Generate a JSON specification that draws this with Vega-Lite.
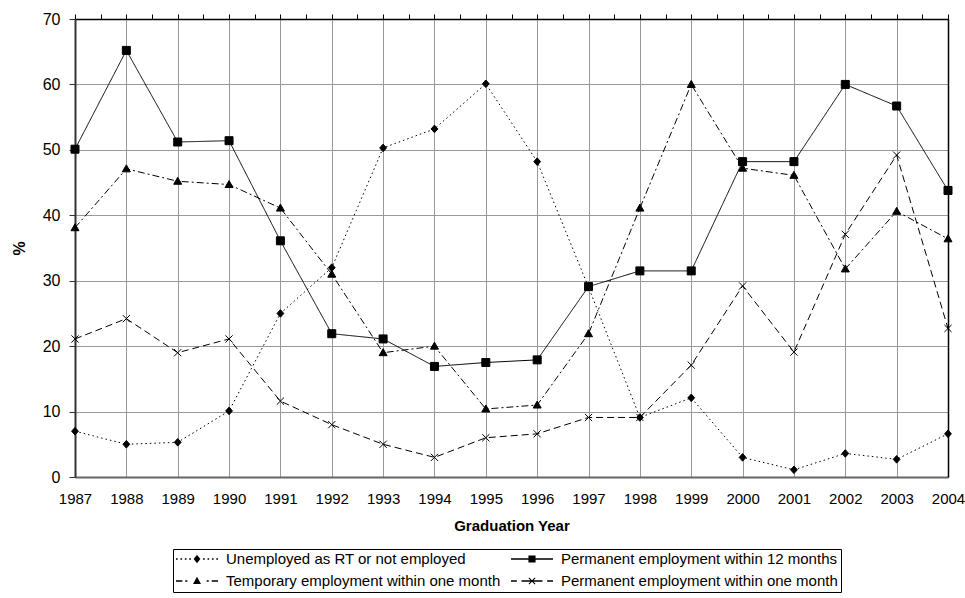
{
  "$schema": "https://vega.github.io/schema/vega-lite/v6.json",
  "width": 873,
  "height": 458,
  "autosize": "none",
  "padding": {"left": 75, "top": 19, "right": 17, "bottom": 121},
  "background": "white",
  "config": {"font": "Liberation Sans", "view": {"stroke": null}},
  "data": {
    "values": [
      {"year": 1987, "series": "Unemployed as RT or not employed", "pct": 7.0},
      {"year": 1988, "series": "Unemployed as RT or not employed", "pct": 5.0},
      {"year": 1989, "series": "Unemployed as RT or not employed", "pct": 5.3},
      {"year": 1990, "series": "Unemployed as RT or not employed", "pct": 10.1},
      {"year": 1991, "series": "Unemployed as RT or not employed", "pct": 25.0},
      {"year": 1992, "series": "Unemployed as RT or not employed", "pct": 32.0},
      {"year": 1993, "series": "Unemployed as RT or not employed", "pct": 50.3},
      {"year": 1994, "series": "Unemployed as RT or not employed", "pct": 53.2},
      {"year": 1995, "series": "Unemployed as RT or not employed", "pct": 60.1},
      {"year": 1996, "series": "Unemployed as RT or not employed", "pct": 48.2},
      {"year": 1997, "series": "Unemployed as RT or not employed", "pct": 29.0},
      {"year": 1998, "series": "Unemployed as RT or not employed", "pct": 9.1},
      {"year": 1999, "series": "Unemployed as RT or not employed", "pct": 12.1},
      {"year": 2000, "series": "Unemployed as RT or not employed", "pct": 3.0},
      {"year": 2001, "series": "Unemployed as RT or not employed", "pct": 1.1},
      {"year": 2002, "series": "Unemployed as RT or not employed", "pct": 3.6},
      {"year": 2003, "series": "Unemployed as RT or not employed", "pct": 2.7},
      {"year": 2004, "series": "Unemployed as RT or not employed", "pct": 6.6},
      {"year": 1987, "series": "Permanent employment within 12 months", "pct": 50.1},
      {"year": 1988, "series": "Permanent employment within 12 months", "pct": 65.2},
      {"year": 1989, "series": "Permanent employment within 12 months", "pct": 51.2},
      {"year": 1990, "series": "Permanent employment within 12 months", "pct": 51.4},
      {"year": 1991, "series": "Permanent employment within 12 months", "pct": 36.1},
      {"year": 1992, "series": "Permanent employment within 12 months", "pct": 21.9},
      {"year": 1993, "series": "Permanent employment within 12 months", "pct": 21.1},
      {"year": 1994, "series": "Permanent employment within 12 months", "pct": 16.9},
      {"year": 1995, "series": "Permanent employment within 12 months", "pct": 17.5},
      {"year": 1996, "series": "Permanent employment within 12 months", "pct": 17.9},
      {"year": 1997, "series": "Permanent employment within 12 months", "pct": 29.1},
      {"year": 1998, "series": "Permanent employment within 12 months", "pct": 31.5},
      {"year": 1999, "series": "Permanent employment within 12 months", "pct": 31.5},
      {"year": 2000, "series": "Permanent employment within 12 months", "pct": 48.2},
      {"year": 2001, "series": "Permanent employment within 12 months", "pct": 48.2},
      {"year": 2002, "series": "Permanent employment within 12 months", "pct": 60.0},
      {"year": 2003, "series": "Permanent employment within 12 months", "pct": 56.7},
      {"year": 2004, "series": "Permanent employment within 12 months", "pct": 43.8},
      {"year": 1987, "series": "Temporary employment within one month", "pct": 38.1},
      {"year": 1988, "series": "Temporary employment within one month", "pct": 47.1},
      {"year": 1989, "series": "Temporary employment within one month", "pct": 45.2},
      {"year": 1990, "series": "Temporary employment within one month", "pct": 44.7},
      {"year": 1991, "series": "Temporary employment within one month", "pct": 41.1},
      {"year": 1992, "series": "Temporary employment within one month", "pct": 31.0},
      {"year": 1993, "series": "Temporary employment within one month", "pct": 19.0},
      {"year": 1994, "series": "Temporary employment within one month", "pct": 20.0},
      {"year": 1995, "series": "Temporary employment within one month", "pct": 10.4},
      {"year": 1996, "series": "Temporary employment within one month", "pct": 11.0},
      {"year": 1997, "series": "Temporary employment within one month", "pct": 21.9},
      {"year": 1998, "series": "Temporary employment within one month", "pct": 41.1},
      {"year": 1999, "series": "Temporary employment within one month", "pct": 60.0},
      {"year": 2000, "series": "Temporary employment within one month", "pct": 47.2},
      {"year": 2001, "series": "Temporary employment within one month", "pct": 46.1},
      {"year": 2002, "series": "Temporary employment within one month", "pct": 31.8},
      {"year": 2003, "series": "Temporary employment within one month", "pct": 40.6},
      {"year": 2004, "series": "Temporary employment within one month", "pct": 36.4},
      {"year": 1987, "series": "Permanent employment within one month", "pct": 21.1},
      {"year": 1988, "series": "Permanent employment within one month", "pct": 24.2},
      {"year": 1989, "series": "Permanent employment within one month", "pct": 19.0},
      {"year": 1990, "series": "Permanent employment within one month", "pct": 21.1},
      {"year": 1991, "series": "Permanent employment within one month", "pct": 11.6},
      {"year": 1992, "series": "Permanent employment within one month", "pct": 8.0},
      {"year": 1993, "series": "Permanent employment within one month", "pct": 5.0},
      {"year": 1994, "series": "Permanent employment within one month", "pct": 3.0},
      {"year": 1995, "series": "Permanent employment within one month", "pct": 6.0},
      {"year": 1996, "series": "Permanent employment within one month", "pct": 6.6},
      {"year": 1997, "series": "Permanent employment within one month", "pct": 9.1},
      {"year": 1998, "series": "Permanent employment within one month", "pct": 9.1},
      {"year": 1999, "series": "Permanent employment within one month", "pct": 17.1},
      {"year": 2000, "series": "Permanent employment within one month", "pct": 29.2},
      {"year": 2001, "series": "Permanent employment within one month", "pct": 19.1},
      {"year": 2002, "series": "Permanent employment within one month", "pct": 37.1},
      {"year": 2003, "series": "Permanent employment within one month", "pct": 49.2},
      {"year": 2004, "series": "Permanent employment within one month", "pct": 22.7}
    ]
  },
  "layer": [
    {
      "mark": {"type": "line", "color": "black", "strokeWidth": 1},
      "encoding": {
        "x": {
          "field": "year", "type": "quantitative",
          "scale": {"domain": [1987, 2004], "nice": false, "zero": false},
          "axis": {
            "orient": "bottom",
            "values": [1987, 1988, 1989, 1990, 1991, 1992, 1993, 1994, 1995, 1996, 1997, 1998, 1999, 2000, 2001, 2002, 2003, 2004],
            "format": "d", "labelFontSize": 15, "labelColor": "black", "labelPadding": 14,
            "labelFlush": false, "labelOverlap": false,
            "ticks": false, "domainColor": "#666", "domainWidth": 2,
            "grid": true, "gridColor": "#999", "gridWidth": 1,
            "title": "Graduation Year", "titleFontSize": 15, "titleFontWeight": "bold", "titleColor": "black", "titlePadding": 12
          }
        },
        "y": {
          "field": "pct", "type": "quantitative",
          "scale": {"domain": [0, 70], "nice": false},
          "axis": {
            "orient": "left",
            "values": [0, 10, 20, 30, 40, 50, 60, 70],
            "labelFontSize": 16, "labelColor": "black", "labelPadding": 9,
            "tickSize": 6, "tickColor": "#333", "domainColor": "#333", "domainWidth": 2,
            "grid": true, "gridColor": "#999", "gridWidth": 1,
            "title": "%", "titleFontSize": 16, "titleFontWeight": "bold", "titleColor": "black", "titlePadding": 15
          }
        },
        "strokeDash": {
          "field": "series", "type": "nominal",
          "scale": {
            "domain": ["Unemployed as RT or not employed", "Permanent employment within 12 months", "Temporary employment within one month", "Permanent employment within one month"],
            "range": [[1.5, 3], [1, 0], [7, 3, 2, 3], [7, 4]]
          },
          "legend": null
        }
      }
    },
    {
      "mark": {"type": "point", "filled": true, "fill": "black", "stroke": "black", "strokeWidth": 1, "size": 64, "opacity": 1},
      "encoding": {
        "x": {"field": "year", "type": "quantitative", "axis": null},
        "y": {"field": "pct", "type": "quantitative", "axis": null},
        "shape": {
          "field": "series", "type": "nominal",
          "scale": {
            "domain": ["Unemployed as RT or not employed", "Permanent employment within 12 months", "Temporary employment within one month", "Permanent employment within one month"],
            "range": ["M0,-0.95L0.85,0L0,0.95L-0.85,0Z", "M-1,-1H1V1H-1Z", "M0,-1L1,0.75L-1,0.75Z", "M-0.9,-0.9L0.9,0.9M-0.9,0.9L0.9,-0.9"]
          },
          "legend": null
        }
      }
    },
    {
      "mark": {"type": "point", "filled": true, "color": "black", "opacity": 0, "size": 1764},
      "encoding": {
        "x": {
          "field": "year", "type": "quantitative",
          "axis": {
            "orient": "top",
            "values": [1987, 1987.5, 1988, 1988.5, 1989, 1989.5, 1990, 1990.5, 1991, 1991.5, 1992, 1992.5, 1993, 1993.5, 1994, 1994.5, 1995, 1995.5, 1996, 1996.5, 1997, 1997.5, 1998, 1998.5, 1999, 1999.5, 2000, 2000.5, 2001, 2001.5, 2002, 2002.5, 2003, 2003.5, 2004],
            "labels": false, "ticks": true, "tickSize": 5, "tickColor": "black",
            "domainColor": "black", "domainWidth": 1.5, "grid": false, "title": null
          }
        },
        "y": {
          "field": "pct", "type": "quantitative",
          "axis": {"orient": "right", "labels": false, "ticks": false, "domainColor": "black", "domainWidth": 1.5, "grid": false, "title": null}
        },
        "shape": {
          "field": "series", "type": "nominal",
          "scale": {
            "domain": ["Unemployed as RT or not employed", "Temporary employment within one month", "Permanent employment within 12 months", "Permanent employment within one month"],
            "range": [
              "M-1,-0.03h0.08v0.06h-0.08ZM-0.79,-0.03h0.08v0.06h-0.08ZM-0.58,-0.03h0.08v0.06h-0.08ZM-0.37,-0.03h0.08v0.06h-0.08ZM0.29,-0.03h0.08v0.06h-0.08ZM0.5,-0.03h0.08v0.06h-0.08ZM0.71,-0.03h0.08v0.06h-0.08ZM0.92,-0.03h0.08v0.06h-0.08ZM0,-0.2L0.16,0L0,0.2L-0.16,0Z",
              "M-1,-0.03h0.3v0.06h-0.3ZM-0.56,-0.03h0.1v0.06h-0.1ZM0.46,-0.03h0.1v0.06h-0.1ZM0.7,-0.03h0.3v0.06h-0.3ZM0,-0.2L0.19,0.14L-0.19,0.14Z",
              "M-1,-0.03H1V0.03H-1ZM-0.17,-0.17H0.17V0.17H-0.17Z",
              "M-1,-0.03h0.28v0.06h-0.28ZM-0.5,-0.03h1v0.06h-1ZM0.72,-0.03h0.28v0.06h-0.28ZM-0.133,-0.167L0.167,0.133L0.133,0.167L-0.167,-0.133ZM-0.167,0.133L0.133,-0.167L0.167,-0.133L-0.133,0.167Z"
            ]
          },
          "legend": {
            "orient": "none", "legendX": 98, "legendY": 530,
            "columns": 2, "title": null,
            "strokeColor": "black", "fillColor": "white", "padding": 3,
            "labelFont": "Liberation Sans", "labelFontSize": 15, "labelColor": "black", "labelOffset": 8, "labelLimit": 400,
            "symbolSize": 1764, "clipHeight": 14, "rowPadding": 7, "columnPadding": 10,
            "symbolFillColor": "black", "symbolStrokeColor": "black", "symbolStrokeWidth": 0, "symbolOpacity": 1,
            "encode": {"symbols": {"opacity": {"value": 1}, "fill": {"value": "black"}, "fillOpacity": {"value": 1}}}
          }
        }
      }
    }
  ],
  "resolve": {
    "scale": {"shape": "independent"},
    "legend": {"shape": "independent"},
    "axis": {"x": "independent", "y": "independent"}
  }
}
